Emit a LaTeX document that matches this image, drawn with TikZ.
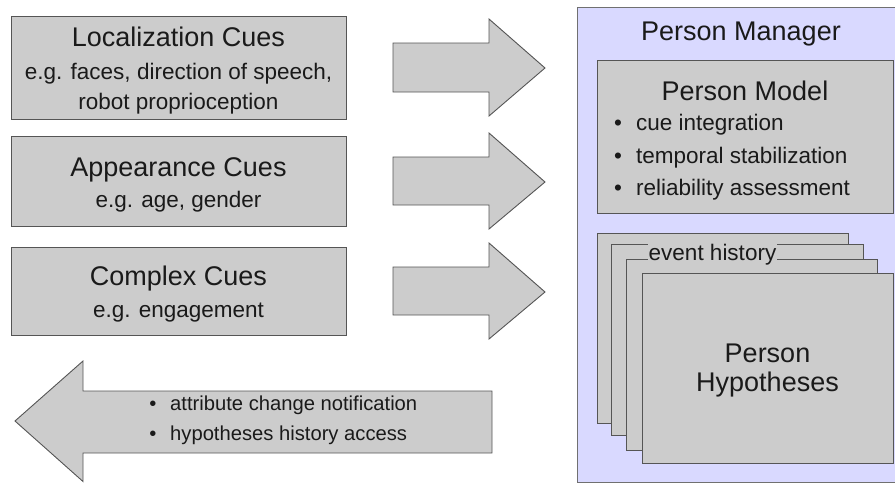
\documentclass[tikz,border=0pt]{standalone}
\usepackage{fontspec}
\setmainfont{Liberation Sans}
\definecolor{boxfill}{HTML}{CCCCCC}
\definecolor{boxline}{HTML}{555555}
\definecolor{mgrfill}{HTML}{D9D9FF}
\definecolor{mgrline}{HTML}{707070}
\definecolor{txtcol}{HTML}{1A1A1A}
\newcommand{\titlefs}{\fontsize{27}{31}\selectfont}
\newcommand{\subfs}{\fontsize{22.5}{26}\selectfont}
\newcommand{\smallfs}{\fontsize{20.2}{24}\selectfont}
\begin{document}
\begin{tikzpicture}[x=1pt,y=-1pt,
  cuebox/.style={draw=boxline,fill=boxfill,line width=0.9pt,inner sep=0pt,anchor=north west},
  blockarrow/.style={draw=boxline,fill=boxfill,line width=0.9pt,line join=miter},
  lbl/.style={inner sep=0pt,text=txtcol,anchor=base},
  lblw/.style={inner sep=0pt,text=txtcol,anchor=base west}]
\useasboundingbox (0,0) rectangle (895,483);

% Person Manager container
\node[fill=mgrfill,inner sep=0pt,anchor=north west,minimum width=318pt,minimum height=475pt] (mgr) at (577,7) {};
\draw[mgrline,line width=0.9pt] (mgr.north east) -- (mgr.north west) -- (mgr.south west) -- (mgr.south east);
\node[lbl] (mgrT) at (741,40.7) {\titlefs Person Manager};

% Person Model
\node[cuebox,minimum width=296pt,minimum height=153pt] (model) at (597,60) {};
\node[lbl] (modelT) at (745,100) {\titlefs Person Model};
\node[lbl] (mb1) at (618,130.5) {\subfs •};
\node[lblw] (mt1) at (636,130.5) {\subfs cue integration};
\node[lbl] (mb2) at (618,163) {\subfs •};
\node[lblw] (mt2) at (636,163) {\subfs temporal stabilization};
\node[lbl] (mb3) at (618,195) {\subfs •};
\node[lblw] (mt3) at (636,195) {\subfs reliability assessment};

% Person Hypotheses stack
\node[cuebox,minimum width=251pt,minimum height=190pt] (hyp1) at (597,233) {};
\node[cuebox,minimum width=252pt,minimum height=191pt] (hyp2) at (611,244) {};
\node[cuebox,minimum width=251pt,minimum height=191pt] (hyp3) at (626,259) {};
\node[lbl,fill=boxfill,inner xsep=0.5pt,inner ysep=2pt] (evt) at (712.5,260) {\subfs event history};
\node[cuebox,minimum width=251pt,minimum height=190pt] (hyp4) at (642,273) {};
\node[lbl] (hypT1) at (767.5,362.7) {\titlefs Person};
\node[lbl] (hypT2) at (767.5,391.7) {\titlefs Hypotheses};

% Cue boxes
\node[cuebox,minimum width=335pt,minimum height=103pt] (loc) at (11,16) {};
\node[lbl] (locT) at (178.5,46.5) {\titlefs Localization Cues};
\node[lbl] (locS1) at (178.5,79.5) {\subfs e.g. faces, direction of speech,};
\node[lbl] (locS2) at (178.5,109.5) {\subfs robot proprioception};

\node[cuebox,minimum width=335pt,minimum height=90pt] (app) at (11,136) {};
\node[lbl] (appT) at (178.5,176) {\titlefs Appearance Cues};
\node[lbl] (appS) at (178.5,207) {\subfs e.g. age, gender};

\node[cuebox,minimum width=335pt,minimum height=88pt] (cpx) at (11,247) {};
\node[lbl] (cpxT) at (178.5,285) {\titlefs Complex Cues};
\node[lbl] (cpxS) at (178.5,317) {\subfs e.g. engagement};

% Block arrows towards the manager
\draw[blockarrow] (393,43) -- (489,43) -- (489,19) -- (545,68) -- (489,116) -- (489,92) -- (393,92) -- cycle;
\draw[blockarrow] (393,157) -- (489,157) -- (489,133) -- (545,182) -- (489,229) -- (489,205) -- (393,205) -- cycle;
\draw[blockarrow] (393,267) -- (489,267) -- (489,243) -- (545,292) -- (489,339) -- (489,315) -- (393,315) -- cycle;

% Block arrow back
\draw[blockarrow] (492,391) -- (83,391) -- (83,361) -- (15,421) -- (83,481.5) -- (83,453) -- (492,453) -- cycle;
\node[lbl] (bb1) at (153,410.7) {\smallfs •};
\node[lblw] (bt1) at (170,410.7) {\smallfs attribute change notification};
\node[lbl] (bb2) at (153,440) {\smallfs •};
\node[lblw] (bt2) at (170,440) {\smallfs hypotheses history access};
\end{tikzpicture}
\end{document}
